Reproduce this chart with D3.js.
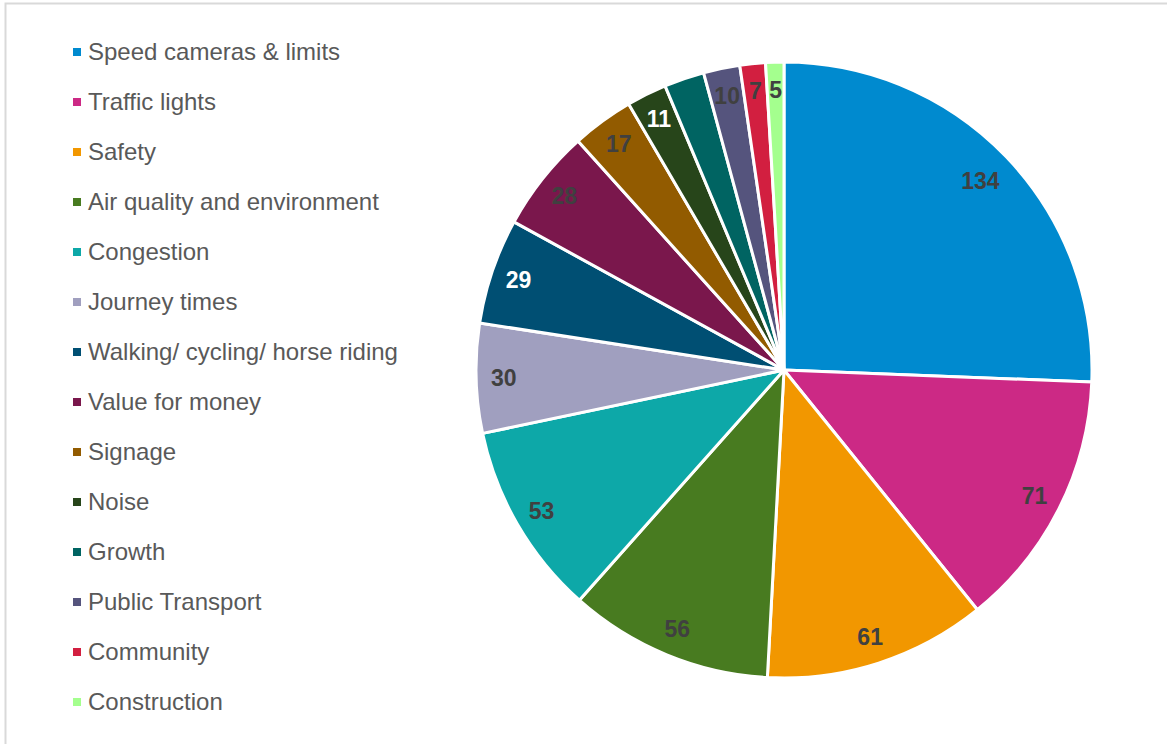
<!DOCTYPE html>
<html>
<head>
<meta charset="utf-8">
<script src="https://cdn.jsdelivr.net/npm/d3@7"></script>
<style>
  html, body { margin: 0; padding: 0; background: #fff; }
  svg { display: block; font-family: "Liberation Sans", Arial, sans-serif; }
</style>
</head>
<body>
<svg id="chart" width="1167" height="744"></svg>
<script>
// Responses by topic
const categories = [
  "Speed cameras & limits", "Traffic lights", "Safety", "Air quality and environment",
  "Congestion", "Journey times", "Walking/ cycling/ horse riding", "Value for money",
  "Signage", "Noise", "Growth", "Public Transport", "Community", "Construction"
];
const values = [134, 71, 61, 56, 53, 30, 29, 28, 17, 11, 11, 10, 7, 5];
const colors = [
  "#008ACF", "#CC2985", "#F29700", "#487B20", "#0DA8A8", "#A09FBF", "#004F73",
  "#7A174C", "#925B00", "#27451A", "#006462", "#55547D", "#D21F40", "#A4FF8E"
];
// Value labels shown on slices (Growth carries none)
const labelText = ["134", "71", "61", "56", "53", "30", "29", "28", "17", "11", "", "10", "7", "5"];
const labelColors = [
  "#404040", "#404040", "#404040", "#404040", "#404040", "#404040", "#ffffff",
  "#404040", "#404040", "#ffffff", "#ffffff", "#404040", "#404040", "#404040"
];

const svg = d3.select("#chart");
const W = 1167, H = 744;

// chart area frame
svg.append("rect")
  .attr("x", 5.5).attr("y", 3.5)
  .attr("width", W + 10).attr("height", H + 10)
  .attr("fill", "#fff")
  .attr("stroke", "#D9D9D9").attr("stroke-width", 2);

const data = categories.map((c, i) => ({ name: c, value: values[i], color: colors[i], label: labelText[i], lc: labelColors[i] }));

// Pie
const cx = 784, cy = 370, R = 308;
const pie = d3.pie().value(d => d.value).sort(null);
const arcs = pie(data);
const arc = d3.arc().innerRadius(0).outerRadius(R);
const labelArc = d3.arc().innerRadius(R * 0.91).outerRadius(R * 0.91);
// the widest slice keeps its label a little further in
const bigArc = d3.arc().innerRadius(R * 0.885).outerRadius(R * 0.885);

const g = svg.append("g").attr("transform", `translate(${cx},${cy})`);
g.selectAll("path.slice")
  .data(arcs)
  .join("path")
  .attr("class", "slice")
  .attr("d", arc)
  .attr("fill", d => d.data.color)
  .attr("stroke", "#fff")
  .attr("stroke-width", 3)
  .attr("stroke-linejoin", "round");

g.selectAll("text.val")
  .data(arcs.filter(d => d.data.label !== ""))
  .join("text")
  .attr("class", "val")
  .attr("transform", d => {
    const [x, y] = (d.index === 0 ? bigArc : labelArc).centroid(d);
    return `translate(${x},${y})`;
  })
  .attr("text-anchor", "middle")
  .attr("dy", "0.36em")
  .attr("font-size", 23)
  .attr("font-weight", "bold")
  .attr("fill", d => d.data.lc)
  .text(d => d.data.label);

// Legend
const legendY = d3.scaleBand().domain(categories).range([27, 727]);
const legend = svg.append("g");
const items = legend.selectAll("g.item")
  .data(data)
  .join("g")
  .attr("class", "item")
  .attr("transform", d => `translate(0,${legendY(d.name) + legendY.bandwidth() / 2})`);
items.append("rect")
  .attr("x", 73).attr("y", -4)
  .attr("width", 8).attr("height", 8)
  .attr("fill", d => d.color);
items.append("text")
  .attr("x", 88)
  .attr("dy", "0.35em")
  .attr("font-size", 24)
  .attr("fill", "#595959")
  .text(d => d.name);
</script>
</body>
</html>
